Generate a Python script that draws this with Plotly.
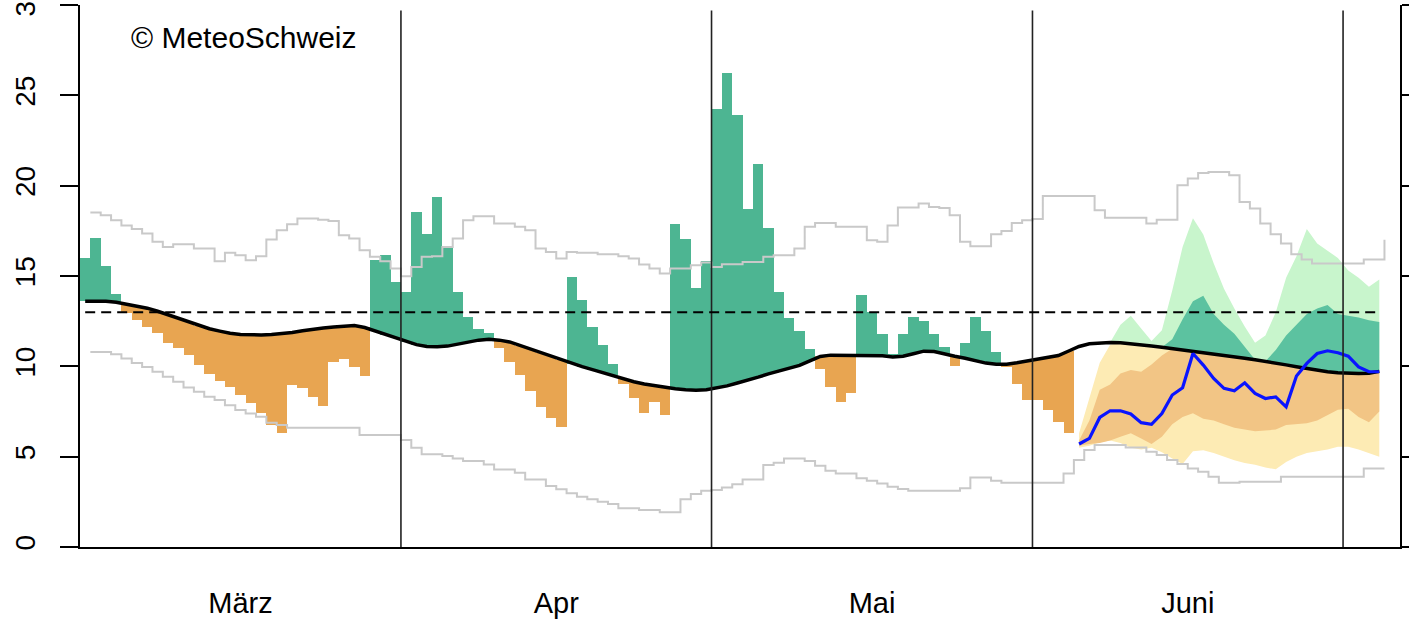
import numpy as np
import plotly.graph_objects as go

# ---------------- data ----------------
MONTH_STARTS = [0, 31, 61, 92, 122]          # day index (from 1 March) of each month start
MONTH_LABELS = ["März", "Apr", "Mai", "Juni"]
THRESHOLD = 13.0
Y_TICKS = [0, 5, 10, 15, 20, 25, 30]

# observed daily values, days 0..95
OBS = [16.0, 17.1, 15.56, 14.0, 12.93, 12.55, 12.19, 11.82, 11.3, 10.99,
       10.62, 10.07, 9.6, 9.18, 8.83, 8.4, 7.95, 7.39, 6.75, 6.29,
       8.96, 8.78, 8.31, 7.8, 10.25, 10.38, 9.97, 9.46, 15.87, 16.15,
       14.67, 14.12, 18.55, 17.35, 19.38, 16.61, 14.12, 12.74, 12.04, 11.85,
       10.99, 10.25, 9.51, 8.65, 7.76, 7.12, 6.65, 14.95, 13.66, 12.19,
       11.17, 10.12, 9.05, 8.22, 7.39, 8.04, 7.3, 17.86, 17.07, 14.36,
       15.82, 24.26, 26.25, 23.89, 18.69, 21.22, 17.68, 14.09, 12.68, 11.97,
       10.97, 9.83, 8.87, 8.0, 8.55, 13.94, 12.98, 11.78, 10.7, 11.78,
       12.74, 12.52, 11.78, 11.08, 10.01, 11.27, 12.74, 11.95, 10.8, 9.97,
       9.05, 8.13, 8.13, 7.58, 6.93, 6.29]

# climatological mean, days 0..125
MEAN = [13.6, 13.62, 13.6, 13.55, 13.45, 13.35, 13.22, 13.05, 12.85, 12.65,
        12.45, 12.25, 12.08, 11.95, 11.83, 11.76, 11.74, 11.74, 11.76, 11.8,
        11.87, 11.97, 12.06, 12.12, 12.18, 12.24, 12.26, 12.15, 11.95, 11.75,
        11.55, 11.35, 11.2, 11.1, 11.08, 11.12, 11.22, 11.35, 11.45, 11.5,
        11.45, 11.35, 11.15, 10.95, 10.75, 10.55, 10.35, 10.15, 9.98, 9.82,
        9.65, 9.5, 9.3, 9.15, 9.02, 8.92, 8.83, 8.76, 8.71, 8.68,
        8.7, 8.8, 8.92, 9.08, 9.22, 9.4, 9.58, 9.75, 9.9, 10.05,
        10.3, 10.55, 10.62, 10.62, 10.6, 10.6, 10.62, 10.58, 10.52, 10.56,
        10.7, 10.84, 10.82, 10.68, 10.56, 10.45, 10.33, 10.18, 10.12, 10.12,
        10.2, 10.3, 10.38, 10.48, 10.6, 10.85, 11.1, 11.25, 11.3, 11.32,
        11.3, 11.25, 11.18, 11.12, 11.05, 10.98, 10.9, 10.82, 10.75, 10.66,
        10.58, 10.52, 10.45, 10.36, 10.28, 10.18, 10.08, 9.98, 9.88, 9.78,
        9.7, 9.65, 9.62, 9.6, 9.62, 9.72]

# climatological maximum / minimum (step lines), days 1..126
GREY_MAX = [18.51, 18.36, 18.09, 17.8, 17.6, 17.35, 16.89, 16.61, 16.76, 16.76,
            16.52, 16.52, 15.82, 16.28, 16.15, 15.87, 16.1, 17.02, 17.53, 17.86,
            18.18, 18.18, 18.12, 18.05, 17.26, 17.07, 16.43, 16.06, 15.82, 15.41,
            14.99, 15.5, 16.06, 16.1, 16.61, 17.07, 18.09, 18.31, 18.31, 17.9,
            17.9, 17.72, 17.53, 16.52, 16.33, 15.97, 16.33, 16.28, 16.28, 16.2,
            16.2, 16.1, 15.97, 15.64, 15.41, 15.14, 15.41, 15.41, 15.6, 15.75,
            15.5, 15.65, 15.65, 15.78, 15.78, 16.06, 16.15, 16.15, 16.52, 17.72,
            17.94, 17.94, 17.72, 17.72, 17.72, 16.98, 16.89, 17.8, 18.79, 18.79,
            19.01, 18.82, 18.77, 18.36, 16.89, 16.65, 16.65, 17.31, 17.49, 17.94,
            18.08, 18.15, 19.43, 19.43, 19.43, 19.43, 19.43, 18.64, 18.23, 18.23,
            18.23, 18.23, 17.9, 18.12, 18.12, 20.02, 20.39, 20.7, 20.76, 20.76,
            20.58, 19.1, 18.73, 17.9, 17.31, 16.8, 16.2, 15.91, 15.69, 15.69,
            15.69, 15.69, 15.69, 15.91, 15.91, 17.0]
GREY_MIN = [10.8, 10.8, 10.67, 10.43, 10.19, 9.97, 9.7, 9.42, 9.14, 8.83,
            8.59, 8.31, 8.13, 7.85, 7.58, 7.39, 7.21, 6.88, 6.75, 6.6,
            6.6, 6.6, 6.6, 6.6, 6.6, 6.6, 6.2, 6.2, 6.2, 6.2,
            5.92, 5.49, 5.14, 5.14, 5.03, 4.9, 4.76, 4.76, 4.57, 4.29,
            4.29, 4.11, 3.74, 3.74, 3.37, 3.19, 2.97, 2.78, 2.64, 2.51,
            2.38, 2.14, 2.14, 2.05, 2.05, 1.92, 1.92, 2.64, 2.93, 3.11,
            3.15, 3.3, 3.48, 3.74, 3.74, 4.54, 4.66, 4.9, 4.9, 4.76,
            4.5, 4.22, 4.07, 4.07, 3.8, 3.67, 3.52, 3.34, 3.21, 3.11,
            3.11, 3.11, 3.11, 3.11, 3.25, 3.85, 3.85, 3.67, 3.56, 3.56,
            3.56, 3.56, 3.56, 3.56, 4.07, 4.81, 5.37, 5.64, 5.64, 5.64,
            5.51, 5.51, 5.27, 5.09, 4.81, 4.59, 4.35, 4.16, 3.89, 3.56,
            3.56, 3.61, 3.61, 3.61, 3.61, 3.89, 3.89, 3.89, 3.89, 3.89,
            3.89, 3.89, 3.89, 4.35, 4.35, 4.35]

# forecast, days 96..125
FC_START = 96
FC_MEDIAN = [5.7, 6.01, 7.17, 7.54, 7.54, 7.36, 6.88, 6.79, 7.39, 8.41,
             8.81, 10.71, 10.07, 9.33, 8.78, 8.65, 9.09, 8.5, 8.22, 8.31,
             7.76, 9.46, 10.16, 10.71, 10.86, 10.75, 10.56, 9.97, 9.7, 9.7]
FC_Q10 = [5.5, 5.6, 5.8, 5.9, 5.75, 5.5, 5.4, 5.5, 5.25, 4.9,
          4.6, 5.3, 5.35, 5.2, 5.0, 4.8, 4.65, 4.55, 4.4, 4.3,
          4.7, 5.0, 5.2, 5.3, 5.4, 5.55, 5.55, 5.4, 5.2, 5.0]
FC_Q25 = [5.6, 5.7, 5.75, 5.9, 6.1, 6.3, 6.0, 5.7, 6.1, 6.8,
          7.2, 7.4, 7.1, 7.0, 6.8, 6.6, 6.5, 6.4, 6.45, 6.5,
          6.75, 6.8, 6.85, 7.0, 7.3, 7.6, 7.65, 7.2, 6.9, 7.5]
FC_Q75 = [5.9, 7.0, 8.7, 9.0, 9.6, 9.8, 9.7, 10.1, 10.6, 11.5,
          12.6, 13.6, 13.9, 12.9, 12.3, 11.8, 11.1, 10.3, 10.2, 10.9,
          11.7, 12.3, 12.9, 13.2, 13.4, 12.9, 12.8, 12.7, 12.55, 12.45]
FC_Q90 = [6.3, 8.3, 10.2, 11.2, 12.3, 12.8, 12.1, 11.4, 12.0, 14.2,
          16.6, 18.2, 17.3, 15.7, 14.3, 13.2, 12.2, 11.3, 11.7, 13.0,
          14.9, 16.1, 17.6, 16.8, 16.4, 16.0, 15.3, 14.9, 14.4, 14.8]

# ---------------- styles ----------------
FONT = "Liberation Sans, Arial, Helvetica, sans-serif"
GREEN = "#4db592"
ORANGE = "#e8a551"
GREEN_LIGHT = "#c8f5cc"
GREEN_DARK = "#5cc2a0"
YELLOW_LIGHT = "#fdebb4"
ORANGE_MID = "#f2c585"
GREY = "#c9c9c9"

obs = np.array(OBS)
mean = np.array(MEAN)
obs_days = np.arange(len(obs))
mean_x = np.arange(len(mean)) + 0.5
grey_x = np.arange(1, len(GREY_MAX) + 1)
fc_x = np.arange(FC_START, FC_START + len(FC_MEDIAN)) + 0.5
fc_mean = mean[FC_START:FC_START + len(FC_MEDIAN)]

fig = go.Figure()

# anomaly bars
base_mean = mean[:len(obs)]
above = obs >= base_mean
fig.add_trace(go.Bar(
    x=(obs_days + 0.5)[above], y=(obs - base_mean)[above], base=base_mean[above],
    width=1.0, marker=dict(color=GREEN, line=dict(width=0)), showlegend=False))
fig.add_trace(go.Bar(
    x=(obs_days + 0.5)[~above], y=(base_mean - obs)[~above], base=obs[~above],
    width=1.0, marker=dict(color=ORANGE, line=dict(width=0)), showlegend=False))


def band(lo, hi, color):
    lo = np.asarray(lo)
    hi = np.asarray(hi)
    xs = np.concatenate([fc_x, fc_x[::-1]])
    ys = np.concatenate([hi, lo[::-1]])
    fig.add_trace(go.Scatter(x=xs, y=ys, fill="toself", fillcolor=color,
                             line=dict(width=0), mode="lines",
                             hoverinfo="skip", showlegend=False))


q10, q25, q75, q90 = map(np.array, (FC_Q10, FC_Q25, FC_Q75, FC_Q90))
# outer band split at the mean
band(np.maximum(q10, fc_mean), np.maximum(q90, fc_mean), GREEN_LIGHT)
band(np.minimum(q10, fc_mean), np.minimum(q90, fc_mean), YELLOW_LIGHT)
# inner band split at the mean
band(np.maximum(q25, fc_mean), np.maximum(q75, fc_mean), GREEN_DARK)
band(np.minimum(q25, fc_mean), np.minimum(q75, fc_mean), ORANGE_MID)

# climatological extremes
for arr in (GREY_MAX, GREY_MIN):
    fig.add_trace(go.Scatter(x=grey_x, y=arr, mode="lines",
                             line=dict(color=GREY, width=2, shape="hv"),
                             showlegend=False))

# mean curve
fig.add_trace(go.Scatter(x=mean_x, y=mean, mode="lines",
                         line=dict(color="black", width=3.5),
                         showlegend=False))

# forecast median
fig.add_trace(go.Scatter(x=fc_x, y=FC_MEDIAN, mode="lines",
                         line=dict(color="#0a14ff", width=3.2),
                         showlegend=False))

shapes = []
for m in MONTH_STARTS[1:]:
    shapes.append(dict(type="line", xref="x", yref="paper", x0=m, x1=m, y0=0, y1=0.99,
                       line=dict(color="#222222", width=1.6), layer="above"))
shapes.append(dict(type="line", xref="x", yref="y", x0=mean_x[0], x1=mean_x[-1],
                   y0=THRESHOLD, y1=THRESHOLD,
                   line=dict(color="black", width=2, dash="10px,6px"), layer="above"))

mids = [(a + b) / 2 for a, b in zip(MONTH_STARTS[:-1], MONTH_STARTS[1:])]

fig.update_layout(
    width=1409, height=619,
    margin=dict(l=80, r=9, t=5, b=72),
    paper_bgcolor="white", plot_bgcolor="white",
    bargap=0, barmode="overlay",
    font=dict(family=FONT, size=28, color="black"),
    shapes=shapes,
    annotations=[dict(text="© MeteoSchweiz", xref="paper", yref="paper",
                      x=0.037, y=0.94, xanchor="left", yanchor="middle",
                      showarrow=False, font=dict(family=FONT, size=30, color="black"))],
    xaxis=dict(range=[0, 127.5], tickmode="array", tickvals=mids, ticktext=MONTH_LABELS,
               ticks="", showgrid=False, zeroline=False, showline=True, automargin=False,
               linecolor="black", linewidth=2, ticklabelstandoff=29,
               tickfont=dict(family=FONT, size=29)),
    yaxis=dict(range=[0, 30], tickmode="array", tickvals=Y_TICKS, automargin=False,
               ticks="outside", ticklen=18, tickwidth=2, tickcolor="black",
               tickangle=-90, showgrid=False, zeroline=False, showline=True,
               linecolor="black", linewidth=2, mirror="ticks", ticklabelstandoff=14,
               ticklabeloverflow="allow"),
)

fig.write_html("out.html", config={"displayModeBar": False},
               post_script="document.body.style.margin='0';document.body.style.overflow='hidden';")
